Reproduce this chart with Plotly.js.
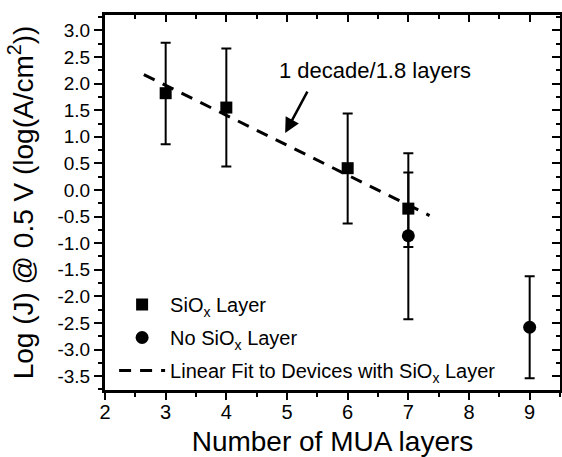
<!DOCTYPE html>
<html>
<head>
<meta charset="utf-8">
<script src="https://cdn.plot.ly/plotly-3.0.1.min.js"></script>
<style>html,body{margin:0;padding:0;background:#fff;}#chart{width:562px;height:457px;}</style>
</head>
<body>
<div id="chart"></div>
<script>
// SiOx layer devices
const siX = [3, 4, 6, 7];
const siY = [1.82, 1.55, 0.41, -0.35];
const siHi = [2.77, 2.66, 1.44, 0.69];
const siLo = [0.86, 0.44, -0.63, -1.07];
// No SiOx layer devices
const noX = [7, 9];
const noY = [-0.86, -2.58];
const noHi = [0.33, -1.62];
const noLo = [-2.43, -3.54];
// linear fit
const fitX = [2.64, 7.35];
const fitY = [2.17, -0.48];

const xTicks = [2, 3, 4, 5, 6, 7, 8, 9];
const yTicks = [3.0, 2.5, 2.0, 1.5, 1.0, 0.5, 0.0, -0.5, -1.0, -1.5, -2.0, -2.5, -3.0, -3.5];

const up = (v, h) => h.map((x, i) => x - v[i]);
const dn = (v, l) => l.map((x, i) => v[i] - x);

const font = {family: 'Liberation Sans, Arial, sans-serif', color: '#000'};
const traces = [
  {x: siX, y: siY, type: 'scatter', mode: 'markers', name: 'SiO<sub>x</sub> Layer', legendgroup: 'a',
   marker: {symbol: 'square', size: 12, color: '#000'},
   error_y: {type: 'data', symmetric: false, array: up(siY, siHi), arrayminus: dn(siY, siLo), color: '#000', thickness: 2, width: 5}},
  {x: noX, y: noY, type: 'scatter', mode: 'markers', name: 'No SiO<sub>x</sub> Layer', legendgroup: 'b',
   marker: {symbol: 'circle', size: 13, color: '#000'},
   error_y: {type: 'data', symmetric: false, array: up(noY, noHi), arrayminus: dn(noY, noLo), color: '#000', thickness: 2, width: 5}},
  {x: fitX, y: fitY, type: 'scatter', mode: 'lines', name: 'Linear Fit to Devices with SiO<sub>x</sub> Layer', legendgroup: 'c',
   line: {color: '#000', width: 3, dash: '12px,9px'}},
  {x: [2], y: [0], xaxis: 'x2', yaxis: 'y2', type: 'scatter', mode: 'markers', marker: {opacity: 0}, showlegend: false, hoverinfo: 'skip'}
];

const xr = [2, 9.5], yr = [-3.76, 3.29];
const layout = {
  width: 562, height: 457,
  margin: {l: 105, r: 2, t: 15, b: 67},
  paper_bgcolor: '#fff', plot_bgcolor: '#fff',
  font: Object.assign({size: 19}, font),
  showlegend: true,
  legend: {x: 0.02, y: 0.0, xanchor: 'left', yanchor: 'bottom', bgcolor: 'rgba(0,0,0,0)',
    font: Object.assign({size: 20}, font), itemwidth: 46, tracegroupgap: 4, traceorder: 'grouped'},
  xaxis: {range: xr, tickvals: xTicks, ticktext: xTicks.map(String), ticks: 'outside', ticklen: 7, tickwidth: 2,
    tickcolor: '#000', showline: true, linecolor: '#000', linewidth: 3, showgrid: false, zeroline: false,
    tickfont: Object.assign({size: 20}, font), ticklabelstandoff: -5,
    minor: {dtick: 0.5, tick0: 2, ticks: 'outside', ticklen: 4, tickwidth: 2, tickcolor: '#000', showgrid: false},
    title: {text: 'Number of MUA layers', font: Object.assign({size: 28}, font), standoff: 14}},
  yaxis: {range: yr, tickvals: yTicks, ticktext: yTicks.map(v => v.toFixed(1)), ticks: 'outside', ticklen: 8, tickwidth: 2,
    tickcolor: '#000', showline: true, linecolor: '#000', linewidth: 3, showgrid: false, zeroline: false,
    tickfont: Object.assign({size: 19}, font),
    minor: {dtick: 0.25, tick0: 0, ticks: 'outside', ticklen: 4, tickwidth: 2, tickcolor: '#000', showgrid: false},
    title: {text: 'Log (J) @ 0.5 V (log(A/cm<sup>2</sup>))', font: Object.assign({size: 28}, font), standoff: 16}},
  xaxis2: {range: xr, overlaying: 'x', side: 'top', anchor: 'y2', tickvals: xTicks, ticks: 'inside', ticklen: 7, tickwidth: 2,
    tickcolor: '#000', showticklabels: false, showline: true, linecolor: '#000', linewidth: 3, showgrid: false, zeroline: false,
    minor: {dtick: 0.5, tick0: 2, ticks: 'inside', ticklen: 4, tickwidth: 2, tickcolor: '#000', showgrid: false}},
  yaxis2: {range: yr, overlaying: 'y', side: 'right', anchor: 'x2', tickvals: yTicks, ticks: 'inside', ticklen: 8, tickwidth: 2,
    tickcolor: '#000', showticklabels: false, showline: true, linecolor: '#000', linewidth: 3, showgrid: false, zeroline: false,
    minor: {dtick: 0.25, tick0: 0, ticks: 'inside', ticklen: 4, tickwidth: 2, tickcolor: '#000', showgrid: false}},
  annotations: [
    {x: 6.45, y: 2.255, xref: 'x', yref: 'y', text: '1 decade/1.8 layers', showarrow: false,
     font: Object.assign({size: 22}, font), xanchor: 'center', yanchor: 'middle'},
    {x: 4.97, y: 1.07, xref: 'x', yref: 'y', text: '', showarrow: true,
     arrowhead: 2, arrowsize: 1.2, arrowwidth: 2.5, arrowcolor: '#000', ax: 23, ay: -43, standoff: 0}
  ]
};
Plotly.newPlot('chart', traces, layout, {displayModeBar: false, staticPlot: true});
</script>
</body>
</html>
